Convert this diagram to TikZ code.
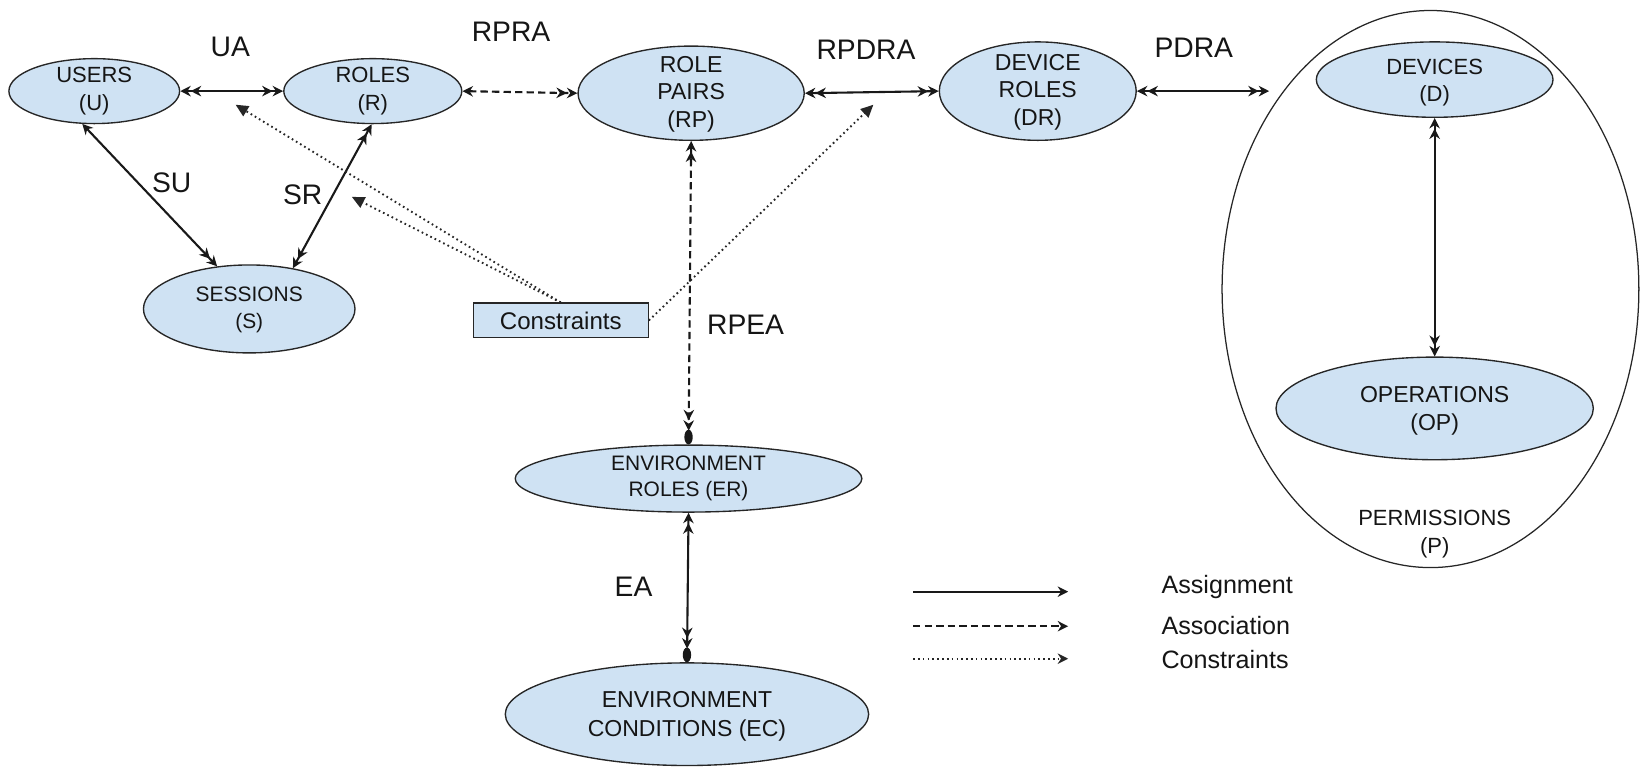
\documentclass[tikz,border=0pt]{standalone}
\usepackage{fontspec}
\setmainfont{Liberation Sans}
\usetikzlibrary{arrows.meta,shapes.geometric}
\definecolor{fillb}{HTML}{CFE2F3}
\definecolor{txt}{HTML}{151515}
\begin{document}
\begin{tikzpicture}[x=1pt,y=-1pt,
  >={Stealth[length=10pt,width=10pt]},
  ell/.style={ellipse, draw=black!85, line width=1.3pt, fill=fillb, inner sep=0pt},
  etxt/.style={align=center, text=txt, font=\fontsize{21}{26}\selectfont, inner sep=0pt},
  lab/.style={text=txt, font=\fontsize{27}{30}\selectfont, inner sep=0pt},
  assign/.style={line width=2pt, draw=black!90},
  assoc/.style={line width=2pt, dash pattern=on 7pt off 4pt, draw=black!90},
  consline/.style={line width=1.8pt, dash pattern=on 1.6pt off 3pt, draw=black!85},
  cons/.style={consline, -{Triangle[length=12pt,width=11pt]}},
  legt/.style={anchor=west, text=txt, font=\fontsize{24}{26}\selectfont, inner sep=0pt},
]
\useasboundingbox (0,0) rectangle (1568,732);

% permissions container
\node[ellipse, draw=black!85, line width=1.2pt, minimum width=398, minimum height=532, inner sep=0pt] (p) at (1366,276) {};
\node[etxt, font=\fontsize{21}{27}\selectfont] (pt) at (1370,510) {PERMISSIONS\\(P)};

% entity ellipses
\node[ell, minimum width=163, minimum height=62] (u) at (90,87) {};
\node[etxt] (ut) at (90,87) {USERS\\(U)};
\node[ell, minimum width=170, minimum height=62] (r) at (356,87) {};
\node[etxt] (rt) at (356,87) {ROLES\\(R)};
\node[ell, minimum width=216, minimum height=90] (rp) at (660,89) {};
\node[etxt, font=\fontsize{22}{26}\selectfont] (rpt) at (660,90) {ROLE\\PAIRS\\(RP)};
\node[ell, minimum width=188, minimum height=94] (dr) at (991,87) {};
\node[etxt, font=\fontsize{22}{26}\selectfont] (drt) at (991,88) {DEVICE\\ROLES\\(DR)};
\node[ell, minimum width=226, minimum height=72] (d) at (1370,76) {};
\node[etxt] (dt) at (1370,79) {DEVICES\\(D)};
\node[ell, minimum width=303, minimum height=98] (op) at (1370,390) {};
\node[etxt, font=\fontsize{22}{27}\selectfont] (opt) at (1370,392) {OPERATIONS\\(OP)};
\node[ell, minimum width=202, minimum height=84] (s) at (238,295) {};
\node[etxt, font=\fontsize{20}{26}\selectfont] (st) at (238,296) {SESSIONS\\(S)};
\node[draw=black!85, line width=1.3pt, fill=fillb, minimum width=167, minimum height=33, inner sep=0pt, text=txt, font=\fontsize{23}{26}\selectfont] (c) at (535.5,306) {Constraints};
\node[ell, minimum width=331, minimum height=64] (er) at (657.5,457) {};
\node[etxt, font=\fontsize{20}{25}\selectfont] (ert) at (657.5,457) {ENVIRONMENT\\ROLES (ER)};
\node[ell, minimum width=347, minimum height=98] (ec) at (656,682) {};
\node[etxt, font=\fontsize{22}{27}\selectfont] (ect) at (656,684) {ENVIRONMENT\\CONDITIONS (EC)};

% relation labels
\node[lab] (ua) at (220,45) {UA};
\node[lab] (rpra) at (488,30) {RPRA};
\node[lab] (rpdra) at (827,48) {RPDRA};
\node[lab] (pdra) at (1140,46) {PDRA};
\node[lab] (su) at (164,175) {SU};
\node[lab] (sr) at (289,186) {SR};
\node[lab] (rpea) at (712,310) {RPEA};
\node[lab] (ea) at (605,560) {EA};

% connectors
\draw[assign,<<->>] (u.east) -- (r.west);
\draw[assoc,<->>] (r.east) -- (rp.west);
\draw[assign,<<->>] (rp.east) -- (dr.west);
\coordinate (pe) at (1212,87);
\draw[assign,<<->>] (dr.east) -- (pe);
\draw[assign,<<->>] (d.south) -- (op.north);
\draw[assign,<->>] (u.250) -- (s.127);
\draw[assign,<<->>] (r.268) -- (s.43);
\draw[assoc,<<->>, shorten >=13pt] (rp.south) -- (er.north);
\fill[black!90] ([yshift=7pt]er.north) ellipse [x radius=4pt, y radius=7pt];
\draw[assign,<<->>, shorten >=13pt] (er.south) -- (ec.north);
\fill[black!90] ([yshift=7pt]ec.north) ellipse [x radius=4pt, y radius=7pt];

% constraints
\coordinate (ca1) at (225,100);
\coordinate (ca2) at (336,188);
\coordinate (ca3) at (834,100);
\draw[cons] (c.north) -- (ca1);
\draw[cons] (c.north) -- (ca2);
\draw[cons] (c.east) -- (ca3);

% legend
\coordinate (l1a) at (872,565); \coordinate (l1b) at (1020,565);
\coordinate (l2a) at (872,598); \coordinate (l2b) at (1020,598);
\coordinate (l3a) at (872,629); \coordinate (l3b) at (1020,629);
\draw[assign,->] (l1a) -- (l1b);
\draw[assoc,->] (l2a) -- (l2b);
\draw[consline,->] (l3a) -- (l3b);
\node[legt] (lt1) at (1109,561) {Assignment};
\node[legt] (lt2) at (1109,597) {Association};
\node[legt] (lt3) at (1109,630) {Constraints};
\end{tikzpicture}
\end{document}
